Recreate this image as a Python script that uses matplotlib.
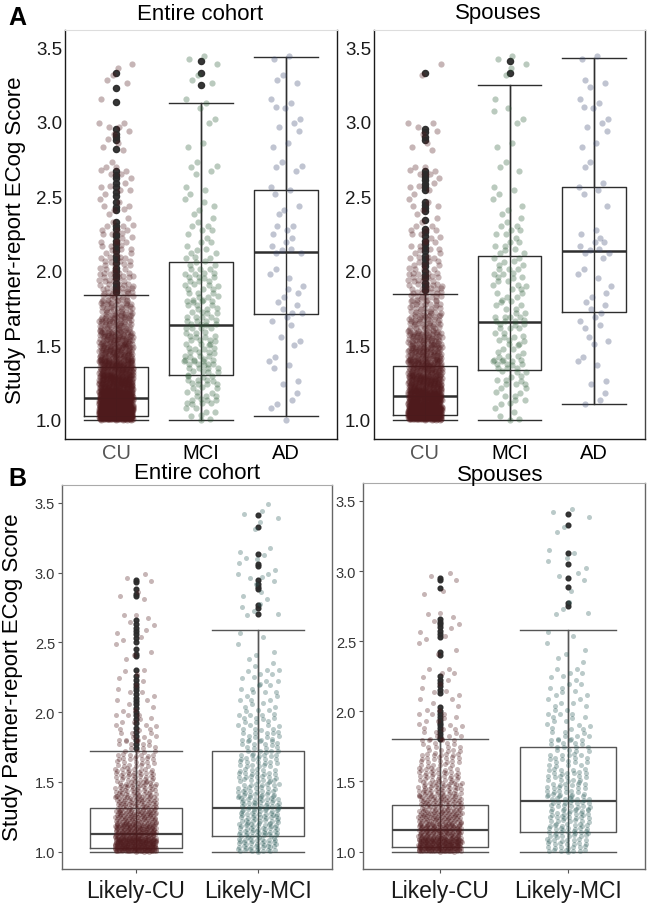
import numpy as np
import matplotlib
matplotlib.use('Agg')
import matplotlib.pyplot as plt

plt.rcParams['font.family'] = ['Liberation Sans', 'DejaVu Sans']

# bins of 0.1 starting at 1.0 -> counts of jittered points
bin_start = 1.0
bin_width = 0.1

# ---- panel A, entire cohort ----
a_left_labels = ['CU', 'MCI', 'AD']
a_left_counts = [
    [420, 260, 190, 140, 100, 80, 55, 40, 30, 22, 16, 12, 10, 5, 6, 6, 7, 1, 4, 6, 0, 1, 2, 3],
    [8, 14, 14, 18, 16, 14, 16, 14, 12, 14, 10, 7, 5, 4, 4, 3, 3, 2, 2, 1, 2, 2, 2, 2, 2],
    [2, 3, 2, 3, 2, 2, 3, 5, 4, 2, 1, 6, 4, 2, 2, 3, 2, 2, 2, 3, 2, 3, 2, 1, 2],
]
# whislo, q1, median, q3, whishi
a_left_stats = [
    [1.0, 1.022, 1.146, 1.351, 1.838],
    [1.0, 1.302, 1.638, 2.06, 3.128],
    [1.027, 1.71, 2.127, 2.545, 3.432],
]
a_left_outliers = [
    [1.86, 1.88, 1.9, 1.92, 1.95, 1.97, 2.0, 2.02, 2.05, 2.08, 2.1, 2.13, 2.15, 2.18,
     2.2, 2.23, 2.25, 2.28, 2.3, 2.33, 2.41, 2.43, 2.46, 2.5, 2.53, 2.56, 2.59, 2.62,
     2.64, 2.67, 2.82, 2.88, 2.9, 2.92, 2.95, 3.13, 3.23, 3.33],
    [3.25, 3.33, 3.41],
    [],
]

# ---- panel A, spouses ----
a_right_labels = ['CU', 'MCI', 'AD']
a_right_counts = [
    [340, 210, 150, 110, 85, 65, 40, 30, 26, 20, 14, 9, 9, 4, 5, 5, 7, 0, 3, 5, 0, 0, 0, 2],
    [5, 8, 10, 14, 10, 10, 14, 8, 8, 10, 9, 8, 6, 4, 3, 3, 2, 1, 2, 1, 3, 1, 0, 3, 2],
    [0, 3, 2, 2, 1, 3, 4, 4, 3, 2, 2, 7, 3, 0, 1, 4, 1, 1, 2, 3, 2, 3, 3, 0, 2],
]
a_right_stats = [
    [1.0, 1.03, 1.157, 1.357, 1.847],
    [1.0, 1.335, 1.654, 2.101, 3.25],
    [1.105, 1.72, 2.134, 2.56, 3.43],
]
a_right_outliers = [
    [1.87, 1.9, 1.92, 1.95, 1.97, 2.0, 2.03, 2.05, 2.08, 2.1, 2.13, 2.15, 2.18, 2.2,
     2.23, 2.26, 2.28, 2.34, 2.4, 2.42, 2.44, 2.46, 2.54, 2.56, 2.58, 2.61, 2.63, 2.65,
     2.67, 2.88, 2.9, 2.93, 2.95, 3.33],
    [3.33, 3.41],
    [],
]

# ---- panel B, entire cohort ----
b_left_labels = ['Likely-CU', 'Likely-MCI']
b_left_counts = [
    [250, 150, 100, 70, 52, 38, 26, 15, 12, 9, 6, 5, 4, 2, 3, 4, 5, 0, 3, 3],
    [42, 42, 38, 38, 30, 27, 24, 19, 17, 14, 10, 9, 8, 5, 3, 2, 1, 4, 3, 6, 3, 4, 0, 3, 3],
]
b_left_stats = [
    [1.0, 1.027, 1.127, 1.311, 1.722],
    [1.0, 1.11, 1.311, 1.72, 2.589],
]
b_left_outliers = [
    [1.74, 1.77, 1.8, 1.83, 1.86, 1.89, 1.92, 1.95, 1.98, 2.0, 2.03, 2.06, 2.08, 2.1,
     2.13, 2.16, 2.18, 2.2, 2.23, 2.26, 2.3, 2.4, 2.42, 2.45, 2.5, 2.53, 2.56, 2.58,
     2.6, 2.63, 2.66, 2.83, 2.85, 2.88, 2.93, 2.95],
    [2.7, 2.75, 2.77, 2.88, 2.9, 2.92, 2.95, 3.05, 3.06, 3.13, 3.33, 3.41],
]

# ---- panel B, spouses ----
b_right_labels = ['Likely-CU', 'Likely-MCI']
b_right_counts = [
    [220, 130, 92, 68, 50, 36, 26, 18, 12, 9, 6, 5, 5, 1, 3, 4, 5, 0, 2, 3],
    [30, 33, 30, 30, 24, 22, 18, 16, 12, 10, 8, 8, 6, 3, 3, 2, 1, 3, 1, 3, 3, 2, 1, 2, 2],
]
b_right_stats = [
    [1.0, 1.031, 1.157, 1.335, 1.80],
    [1.0, 1.142, 1.363, 1.744, 2.581],
]
b_right_outliers = [
    [1.8, 1.82, 1.84, 1.86, 1.88, 1.9, 1.92, 1.94, 1.96, 1.98, 2.0, 2.03, 2.13, 2.15,
     2.18, 2.2, 2.22, 2.25, 2.4, 2.42, 2.53, 2.55, 2.57, 2.6, 2.62, 2.64, 2.66, 2.88,
     2.94, 2.95],
    [2.75, 2.77, 2.89, 2.95, 3.05, 3.13, 3.33, 3.41],
]

a_colors = ['#4e1a1c', '#2b5a35', '#3d4a72']
b_colors = ['#4e1a1c', '#2a5a58']

W, H = 648, 904
fig = plt.figure(figsize=(W / 100, H / 100), dpi=100)


def px_axes(x0, x1, top, bottom):
    return fig.add_axes([x0 / W, 1 - bottom / H, (x1 - x0) / W, (bottom - top) / H])


def expand_bins(counts):
    # spread the points of each bin over the bin (R2 low-discrepancy order)
    ys, us = [], []
    for i, n in enumerate(counts):
        lo = bin_start + i * bin_width
        for k in range(n):
            ys.append(lo + ((k * 0.7548777 + 0.31 * i) % 1.0) * bin_width)
            us.append((k * 0.5698403 + 0.17 * i + 0.5) % 1.0)
    return np.array(ys), np.array(us)


def draw_panel(ax, labels, counts, stats, outliers, colors, style):
    pos = np.arange(1, len(labels) + 1)
    bstats = []
    for p, st, out in zip(pos, stats, outliers):
        lo, q1, med, q3, hi = st
        bstats.append(dict(whislo=lo, q1=q1, med=med, q3=q3, whishi=hi, fliers=out))
        # errorbar whisker through the box
        ax.vlines(p, lo, hi, color=style['line'], lw=style['lw'], zorder=2)
    ax.bxp(bstats, positions=pos, widths=0.75, capwidths=0.75, showfliers=True,
           patch_artist=False,
           boxprops=dict(color=style['line'], lw=style['lw']),
           whiskerprops=dict(color=style['line'], lw=style['lw']),
           capprops=dict(color=style['line'], lw=style['lw']),
           medianprops=dict(color=style['med'], lw=style['mlw']),
           flierprops=dict(marker='o', markerfacecolor='#2b2b2b', markeredgecolor='#2b2b2b',
                           markersize=style['fsize'], alpha=0.95),
           zorder=2)
    for p, c, col in zip(pos, counts, colors):
        ys, us = expand_bins(c)
        xs = p + (us - 0.5) * 2 * style['jitter']
        ax.scatter(xs, ys, s=style['ps'], color=col, alpha=0.32, lw=0, zorder=3)
    ax.set_xlim(0.4, len(labels) + 0.6)
    ax.set_xticks(pos)
    ax.set_yticks([1.0, 1.5, 2.0, 2.5, 3.0, 3.5])
    ax.set_yticklabels(['1.0', '1.5', '2.0', '2.5', '3.0', '3.5'])


style_a = dict(line='#2e2e2e', med='#2e2e2e', lw=1.0, mlw=1.8, fsize=4.4, ps=20, jitter=0.2)
style_b = dict(line='#555555', med='#444444', lw=1.0, mlw=1.6, fsize=3.4, ps=13, jitter=0.17)

axes_a = [px_axes(65, 337, 30.5, 440), px_axes(374, 645, 30.5, 440)]
axes_b = [px_axes(62, 332, 486, 870), px_axes(363, 645, 484, 870)]

draw_panel(axes_a[0], a_left_labels, a_left_counts, a_left_stats, a_left_outliers, a_colors, style_a)
draw_panel(axes_a[1], a_right_labels, a_right_counts, a_right_stats, a_right_outliers, a_colors, style_a)
draw_panel(axes_b[0], b_left_labels, b_left_counts, b_left_stats, b_left_outliers, b_colors, style_b)
draw_panel(axes_b[1], b_right_labels, b_right_counts, b_right_stats, b_right_outliers, b_colors, style_b)

for ax, right_col in zip(axes_a, ['#1a1a1a', '#444444']):
    ax.set_ylim(0.87, 3.62)
    ax.set_xticklabels(a_left_labels, fontsize=14.5)
    ax.get_xticklabels()[0].set_color('#555555')
    ax.tick_params(axis='x', length=0, pad=3)
    ax.tick_params(axis='y', length=0, pad=2, labelsize=13.5, labelcolor='#1a1a1a')
    for s in ['left', 'bottom']:
        ax.spines[s].set_color('#1a1a1a')
        ax.spines[s].set_linewidth(1.0)
    ax.spines['top'].set_color('#dddddd')
    ax.spines['top'].set_linewidth(0.8)
    ax.spines['right'].set_color(right_col)
    ax.spines['right'].set_linewidth(1.0)

for ax, labels in zip(axes_b, [b_left_labels, b_right_labels]):
    ax.set_ylim(0.876, 3.628)
    ax.set_xticklabels(labels, fontsize=16.5)
    ax.tick_params(axis='both', length=3, width=0.8, color='#555555')
    ax.tick_params(axis='y', labelsize=10.5, labelcolor='#333333', pad=2)
    ax.tick_params(axis='x', labelcolor='#1a1a1a', pad=4)
    for s in ['left', 'bottom', 'right']:
        ax.spines[s].set_color('#666666')
        ax.spines[s].set_linewidth(1.0)
    ax.spines['top'].set_color('#aaaaaa')
    ax.spines['top'].set_linewidth(0.8)

ylab = 'Study Partner-report ECog Score'
fig.text(16 / W, 1 - 240 / H, ylab, rotation=90, ha='center', va='center', fontsize=16)
fig.text(13 / W, 1 - 677 / H, ylab, rotation=90, ha='center', va='center', fontsize=16)

fig.text(200 / W, 1 - 14 / H, 'Entire cohort', ha='center', va='center', fontsize=16)
fig.text(498 / W, 1 - 13 / H, 'Spouses', ha='center', va='center', fontsize=16)
fig.text(197 / W, 1 - 474 / H, 'Entire cohort', ha='center', va='center', fontsize=16)
fig.text(500 / W, 1 - 476 / H, 'Spouses', ha='center', va='center', fontsize=16)

fig.text(17 / W, 1 - 18 / H, 'A', ha='center', va='center', fontsize=18, fontweight='bold')
fig.text(17 / W, 1 - 479 / H, 'B', ha='center', va='center', fontsize=18, fontweight='bold')

fig.savefig('out.png', dpi=100)
